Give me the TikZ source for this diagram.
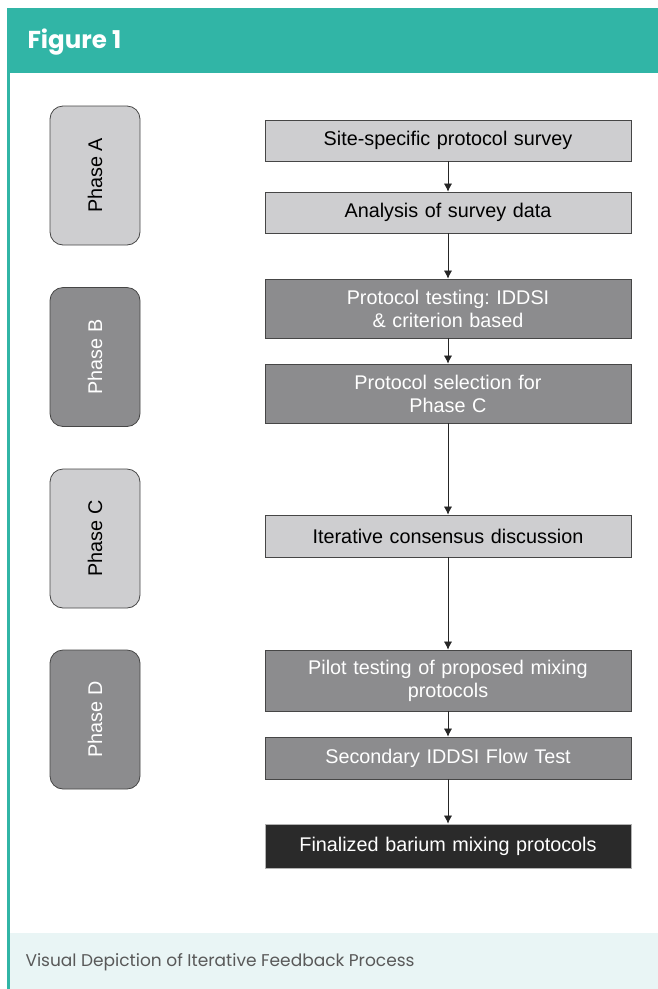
\documentclass[tikz,border=0pt]{standalone}
\usepackage{fontspec}
\usetikzlibrary{arrows.meta}
\setmainfont{Liberation Sans}
\newfontfamily\headfont{Poppins}
\frenchspacing
\definecolor{teal}{RGB}{49,181,166}
\definecolor{capbg}{RGB}{233,245,245}
\definecolor{lightbox}{RGB}{206,206,208}
\definecolor{darkbox}{RGB}{140,140,142}
\definecolor{blackbox}{RGB}{42,42,42}
\definecolor{edgegray}{RGB}{70,70,70}
\tikzset{
  stepbox/.style={draw=edgegray,line width=0.8pt,minimum width=366pt,
    text width=350pt,align=center,inner sep=0pt,font=\fontsize{19.8}{23}\selectfont},
  phasebox/.style={draw=edgegray,line width=0.8pt,rounded corners=13pt,
    minimum width=90pt,minimum height=139pt},
  phaselabel/.style={rotate=90,font=\fontsize{19.8}{24}\selectfont},
  flow/.style={-{Latex[length=8pt,width=8pt]},line width=0.6pt,draw=black!85}
}
\begin{document}
\begin{tikzpicture}[x=1pt,y=-1pt]
  \useasboundingbox (0,0) rectangle (658,989);
  % frame
  \fill[teal] (7,8) rectangle (658,73);
  \fill[capbg] (9,933) rectangle (658,989);
  \fill[teal] (7,73) rectangle (9.5,989);
  \node[anchor=west,text=white,font=\headfont\bfseries\fontsize{24.5}{28}\selectfont] (title) at (24,42) {Figure 1};
  \node[anchor=west,text=black!65,font=\headfont\fontsize{17}{20}\selectfont] (caption) at (22,962) {Visual Depiction of Iterative Feedback Process};
  % phases
  \node[phasebox,fill=lightbox] (pA) at (95,175.5) {};
  \node[phasebox,fill=darkbox] (pB) at (95,357) {};
  \node[phasebox,fill=lightbox] (pC) at (95,538.5) {};
  \node[phasebox,fill=darkbox] (pD) at (95,719.5) {};
  \node[phaselabel] (lA) at (pA) {Phase A};
  \node[phaselabel,text=white] (lB) at (pB) {Phase B};
  \node[phaselabel] (lC) at (pC) {Phase C};
  \node[phaselabel,text=white] (lD) at (pD) {Phase D};
  % steps
  \node[stepbox,fill=lightbox,minimum height=41pt] (s1) at (448,140.5) {Site-specific protocol survey};
  \node[stepbox,fill=lightbox,minimum height=41pt] (s2) at (448,212.5) {Analysis of survey data};
  \node[stepbox,fill=darkbox,text=white,minimum height=59pt] (s3) at (448,308.5) {Protocol testing: IDDSI\\ \& criterion based};
  \node[stepbox,fill=darkbox,text=white,minimum height=59pt] (s4) at (448,393.5) {Protocol selection for\\ Phase C};
  \node[stepbox,fill=lightbox,minimum height=42pt] (s5) at (448,536) {Iterative consensus discussion};
  \node[stepbox,fill=darkbox,text=white,minimum height=61pt] (s6) at (448,680.5) {Pilot testing of proposed mixing\\ protocols};
  \node[stepbox,fill=darkbox,text=white,minimum height=42pt] (s7) at (448,758) {Secondary IDDSI Flow Test};
  \node[stepbox,fill=blackbox,text=white,draw=gray!60,minimum height=44pt] (s8) at (448,846) {Finalized barium mixing protocols};
  \foreach \a/\b in {s1/s2,s2/s3,s3/s4,s4/s5,s5/s6,s6/s7,s7/s8}
    \draw[flow] (\a) -- (\b);
\end{tikzpicture}
\end{document}
